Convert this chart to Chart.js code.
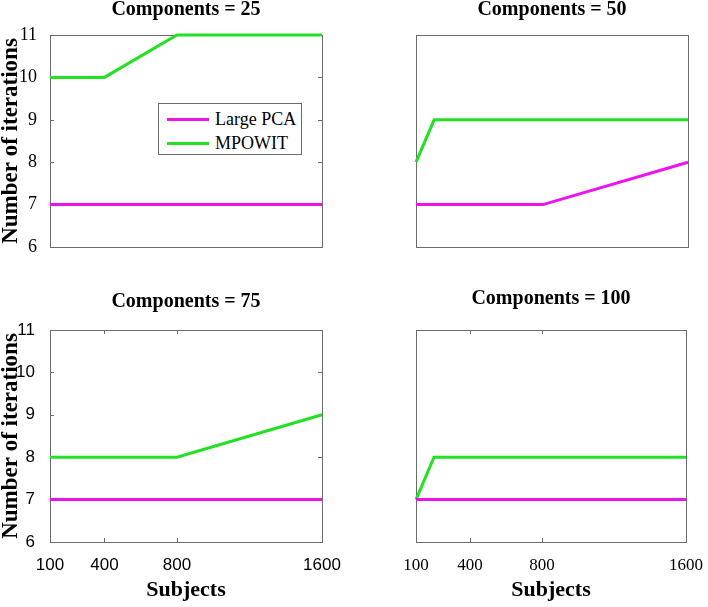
<!DOCTYPE html>
<html>
<head>
<meta charset="utf-8">
<script src="https://cdn.jsdelivr.net/npm/chart.js@4.4.0/dist/chart.umd.min.js"></script>
<style>
  body { margin: 0; background: #fff; }
  #wrap { position: relative; width: 708px; height: 607px; }
  .panel { position: absolute; }
  #legend {
    position: absolute; left: 158px; top: 103px; width: 142px; height: 50px;
    border: 1px solid #6b6b6b; background: #fff;
    font-family: 'Liberation Serif', 'Times New Roman', serif; font-size: 18px; color: #000;
  }
  #legend .row { position: absolute; left: 0; height: 20px; }
  #legend .swatch { position: absolute; left: 8px; top: 9px; width: 42px; height: 3px; }
  #legend .label { position: absolute; left: 56px; top: 0; line-height: 20px; white-space: nowrap; }
</style>
</head>
<body>
<div id="wrap">
  <div class="panel" style="left:0;top:0"><canvas id="c25" width="360" height="280"></canvas></div>
  <div class="panel" style="left:360px;top:0"><canvas id="c50" width="348" height="280"></canvas></div>
  <div class="panel" style="left:0;top:280px"><canvas id="c75" width="360" height="327"></canvas></div>
  <div class="panel" style="left:360px;top:280px"><canvas id="c100" width="348" height="327"></canvas></div>
  <div id="legend"></div>
</div>
<script>
// 各パネルのデータ（横軸: 被験者数）
const subjects = [100, 200, 400, 800, 1600]
const xTickValues = [100, 400, 800, 1600]
const yMin = 6
const yMax = 11

const largePca25 = [7, 7, 7, 7, 7]
const mpowit25 = [10, 10, 10, 11, 11]
const largePca50 = [7, 7, 7, 7, 8]
const mpowit50 = [8, 9, 9, 9, 9]
const largePca75 = [7, 7, 7, 7, 7]
const mpowit75 = [8, 8, 8, 8, 9]
const largePca100 = [7, 7, 7, 7, 7]
const mpowit100 = [7, 8, 8, 8, 8]

const SERIF = "'Liberation Serif', 'Times New Roman', serif"
const SANS = "'Liberation Sans', Arial, sans-serif"
const FRAME = '#6b6b6b'
const MAGENTA = '#ee12ee'
const GREEN = '#22e022'

// 軸の枠と内向きの目盛り線
const frameTicks = {
  id: 'frameTicks',
  beforeDatasetsDraw(chart, args, opts) {
    const { ctx, chartArea: a, scales: { x, y } } = chart
    ctx.save()
    ctx.strokeStyle = FRAME
    ctx.lineWidth = 1
    ctx.strokeRect(Math.round(a.left) + 0.5, Math.round(a.top) + 0.5, Math.round(a.right - a.left), Math.round(a.bottom - a.top))
    ctx.beginPath()
    if (opts.y) {
      y.ticks.forEach(t => {
        const py = Math.round(y.getPixelForValue(t.value)) + 0.5
        ctx.moveTo(a.left, py); ctx.lineTo(a.left + 4, py)
        ctx.moveTo(a.right, py); ctx.lineTo(a.right - 4, py)
      })
    }
    if (opts.x) {
      x.ticks.forEach(t => {
        const px = Math.round(x.getPixelForValue(t.value)) + 0.5
        ctx.moveTo(px, a.top); ctx.lineTo(px, a.top + 4)
        ctx.moveTo(px, a.bottom); ctx.lineTo(px, a.bottom - 4)
      })
    }
    ctx.stroke()
    ctx.restore()
  }
}

function series(label, values, color) {
  return {
    label: label,
    data: subjects.map((s, i) => ({ x: s, y: values[i] })),
    borderColor: color,
    backgroundColor: color,
    borderWidth: 3,
    pointRadius: 0,
    tension: 0,
    clip: 6
  }
}

function makePanel(id, p) {
  const ctx = document.getElementById(id).getContext('2d')
  return new Chart(ctx, {
    type: 'line',
    data: {
      datasets: [
        series('Large PCA', p.pca, MAGENTA),
        series('MPOWIT', p.mpowit, GREEN)
      ]
    },
    options: {
      responsive: false,
      animation: false,
      layout: { padding: p.padding },
      plugins: {
        legend: { display: false },
        tooltip: { enabled: false },
        title: {
          display: true,
          text: p.title,
          color: '#000',
          fullSize: false,
          font: { family: SERIF, size: 20, weight: 'bold', lineHeight: 1 },
          padding: p.titlePad
        },
        frameTicks: { x: p.xMarks, y: p.yMarks }
      },
      scales: {
        x: {
          type: 'linear',
          display: p.showX,
          min: 100,
          max: 1600,
          afterBuildTicks: s => { s.ticks = xTickValues.map(v => ({ value: v })) },
          afterFit: s => { s.height = p.showX ? 65 : 0 },
          grid: { display: false },
          border: { display: false },
          ticks: { color: '#000', padding: 5, font: { family: p.xFont, size: 17 }, callback: v => String(v) },
          title: {
            display: true,
            text: 'Subjects',
            color: '#000',
            font: { family: SERIF, size: 22, weight: 'bold', lineHeight: 1.2 },
            padding: { top: 0, bottom: 3 }
          }
        },
        y: {
          display: p.showY,
          min: yMin,
          max: yMax,
          afterFit: s => { s.width = p.showY ? 50 : 0 },
          grid: { display: false },
          border: { display: false },
          ticks: { stepSize: 1, color: '#000', padding: p.yPad, font: { family: p.yFont, size: p.yFont === SERIF ? 18 : 17 } },
          title: {
            display: true,
            text: 'Number of iterations',
            color: '#000',
            font: { family: SERIF, size: 23, weight: 'bold', lineHeight: 1 },
            padding: 0
          }
        }
      }
    },
    plugins: [frameTicks]
  })
}

const chart25 = makePanel('c25', {
  title: 'Components = 25', pca: largePca25, mpowit: mpowit25,
  showX: false, showY: true, xMarks: false, yMarks: true,
  xFont: SANS, yFont: SERIF, yPad: 5,
  padding: { left: 0, right: 38, top: 0, bottom: 33 },
  titlePad: { top: 0, bottom: 15 }
})
makePanel('c50', {
  title: 'Components = 50', pca: largePca50, mpowit: mpowit50,
  showX: false, showY: false, xMarks: false, yMarks: false,
  xFont: SERIF, yFont: SERIF, yPad: 5,
  padding: { left: 56, right: 20, top: 0, bottom: 33 },
  titlePad: { top: 0, bottom: 15 }
})
makePanel('c75', {
  title: 'Components = 75', pca: largePca75, mpowit: mpowit75,
  showX: true, showY: true, xMarks: true, yMarks: true,
  xFont: SANS, yFont: SANS, yPad: 7,
  padding: { left: 0, right: 38, top: 0, bottom: 0 },
  titlePad: { top: 11.5, bottom: 18.5 }
})
makePanel('c100', {
  title: 'Components = 100', pca: largePca100, mpowit: mpowit100,
  showX: true, showY: false, xMarks: true, yMarks: false,
  xFont: SERIF, yFont: SERIF, yPad: 5,
  padding: { left: 56, right: 20, top: 0, bottom: 0 },
  titlePad: { top: 8.5, bottom: 21.5 }
})

// 凡例（左上パネルのデータセットから作成）
const legendEl = document.getElementById('legend')
chart25.data.datasets.forEach((ds, i) => {
  const row = document.createElement('div')
  row.className = 'row'
  row.style.top = (5 + i * 24) + 'px'
  row.innerHTML = '<div class="swatch" style="background:' + ds.borderColor + '"></div><div class="label">' + ds.label + '</div>'
  legendEl.appendChild(row)
})
</script>
</body>
</html>
